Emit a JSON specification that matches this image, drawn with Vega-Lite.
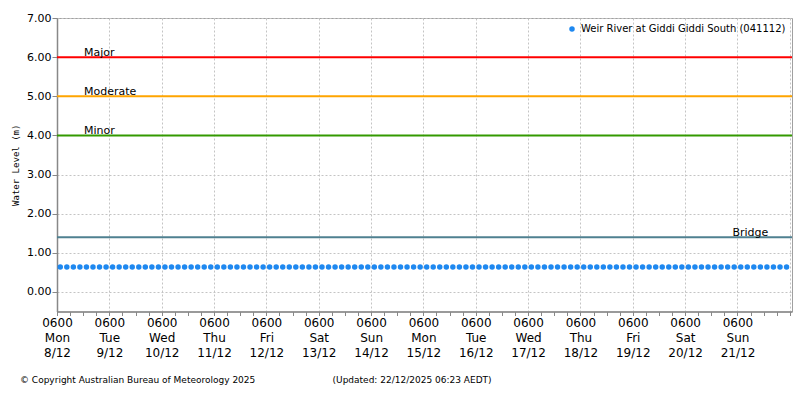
{
  "$schema": "https://vega.github.io/schema/vega-lite/v6.json",
  "width": 735,
  "height": 293.5,
  "autosize": {"type": "none"},
  "padding": {"left": 57, "top": 18, "right": 8, "bottom": 88.5},
  "background": "white",
  "title": {
    "text": "© Copyright Australian Bureau of Meteorology 2025\u00a0\u00a0\u00a0\u00a0\u00a0\u00a0\u00a0\u00a0\u00a0\u00a0\u00a0\u00a0\u00a0\u00a0\u00a0\u00a0\u00a0\u00a0\u00a0\u00a0\u00a0\u00a0\u00a0\u00a0\u00a0\u00a0\u00a0(Updated: 22/12/2025 06:23 AEDT)",
    "orient": "bottom",
    "anchor": "start",
    "frame": "group",
    "dx": -37,
    "offset": 17,
    "font": "DejaVu Sans",
    "fontSize": 9,
    "fontWeight": "normal",
    "color": "black"
  },
  "config": {
    "view": {"stroke": "#a0a0a0", "strokeWidth": 1},
    "axis": {
      "labelFont": "DejaVu Sans",
      "labelColor": "black",
      "domainColor": "#888888",
      "domainWidth": 1.5,
      "tickColor": "#888888",
      "gridColor": "#c4c4c4",
      "gridDash": [2, 2],
      "gridWidth": 1
    }
  },
  "layer": [
    {
      "data": {
        "format": {"parse": {"t": "utc:'%Y-%m-%dT%H:%M'"}},
        "values": [
          {"t": "2025-12-08T07:30", "v": 0.64}, {"t": "2025-12-08T10:30", "v": 0.64}, {"t": "2025-12-08T13:30", "v": 0.64}, {"t": "2025-12-08T16:30", "v": 0.64}, {"t": "2025-12-08T19:30", "v": 0.64}, {"t": "2025-12-08T22:30", "v": 0.64},
          {"t": "2025-12-09T01:30", "v": 0.64}, {"t": "2025-12-09T04:30", "v": 0.64}, {"t": "2025-12-09T07:30", "v": 0.64}, {"t": "2025-12-09T10:30", "v": 0.64}, {"t": "2025-12-09T13:30", "v": 0.64}, {"t": "2025-12-09T16:30", "v": 0.64}, {"t": "2025-12-09T19:30", "v": 0.64}, {"t": "2025-12-09T22:30", "v": 0.64},
          {"t": "2025-12-10T01:30", "v": 0.64}, {"t": "2025-12-10T04:30", "v": 0.64}, {"t": "2025-12-10T07:30", "v": 0.64}, {"t": "2025-12-10T10:30", "v": 0.64}, {"t": "2025-12-10T13:30", "v": 0.64}, {"t": "2025-12-10T16:30", "v": 0.64}, {"t": "2025-12-10T19:30", "v": 0.64}, {"t": "2025-12-10T22:30", "v": 0.64},
          {"t": "2025-12-11T01:30", "v": 0.64}, {"t": "2025-12-11T04:30", "v": 0.64}, {"t": "2025-12-11T07:30", "v": 0.64}, {"t": "2025-12-11T10:30", "v": 0.64}, {"t": "2025-12-11T13:30", "v": 0.64}, {"t": "2025-12-11T16:30", "v": 0.64}, {"t": "2025-12-11T19:30", "v": 0.64}, {"t": "2025-12-11T22:30", "v": 0.64},
          {"t": "2025-12-12T01:30", "v": 0.64}, {"t": "2025-12-12T04:30", "v": 0.64}, {"t": "2025-12-12T07:30", "v": 0.64}, {"t": "2025-12-12T10:30", "v": 0.64}, {"t": "2025-12-12T13:30", "v": 0.64}, {"t": "2025-12-12T16:30", "v": 0.64}, {"t": "2025-12-12T19:30", "v": 0.64}, {"t": "2025-12-12T22:30", "v": 0.64},
          {"t": "2025-12-13T01:30", "v": 0.64}, {"t": "2025-12-13T04:30", "v": 0.64}, {"t": "2025-12-13T07:30", "v": 0.64}, {"t": "2025-12-13T10:30", "v": 0.64}, {"t": "2025-12-13T13:30", "v": 0.64}, {"t": "2025-12-13T16:30", "v": 0.64}, {"t": "2025-12-13T19:30", "v": 0.64}, {"t": "2025-12-13T22:30", "v": 0.64},
          {"t": "2025-12-14T01:30", "v": 0.64}, {"t": "2025-12-14T04:30", "v": 0.64}, {"t": "2025-12-14T07:30", "v": 0.64}, {"t": "2025-12-14T10:30", "v": 0.64}, {"t": "2025-12-14T13:30", "v": 0.64}, {"t": "2025-12-14T16:30", "v": 0.64}, {"t": "2025-12-14T19:30", "v": 0.64}, {"t": "2025-12-14T22:30", "v": 0.64},
          {"t": "2025-12-15T01:30", "v": 0.64}, {"t": "2025-12-15T04:30", "v": 0.64}, {"t": "2025-12-15T07:30", "v": 0.64}, {"t": "2025-12-15T10:30", "v": 0.64}, {"t": "2025-12-15T13:30", "v": 0.64}, {"t": "2025-12-15T16:30", "v": 0.64}, {"t": "2025-12-15T19:30", "v": 0.64}, {"t": "2025-12-15T22:30", "v": 0.64},
          {"t": "2025-12-16T01:30", "v": 0.64}, {"t": "2025-12-16T04:30", "v": 0.64}, {"t": "2025-12-16T07:30", "v": 0.64}, {"t": "2025-12-16T10:30", "v": 0.64}, {"t": "2025-12-16T13:30", "v": 0.64}, {"t": "2025-12-16T16:30", "v": 0.64}, {"t": "2025-12-16T19:30", "v": 0.64}, {"t": "2025-12-16T22:30", "v": 0.64},
          {"t": "2025-12-17T01:30", "v": 0.64}, {"t": "2025-12-17T04:30", "v": 0.64}, {"t": "2025-12-17T07:30", "v": 0.64}, {"t": "2025-12-17T10:30", "v": 0.64}, {"t": "2025-12-17T13:30", "v": 0.64}, {"t": "2025-12-17T16:30", "v": 0.64}, {"t": "2025-12-17T19:30", "v": 0.64}, {"t": "2025-12-17T22:30", "v": 0.64},
          {"t": "2025-12-18T01:30", "v": 0.64}, {"t": "2025-12-18T04:30", "v": 0.64}, {"t": "2025-12-18T07:30", "v": 0.64}, {"t": "2025-12-18T10:30", "v": 0.64}, {"t": "2025-12-18T13:30", "v": 0.64}, {"t": "2025-12-18T16:30", "v": 0.64}, {"t": "2025-12-18T19:30", "v": 0.64}, {"t": "2025-12-18T22:30", "v": 0.64},
          {"t": "2025-12-19T01:30", "v": 0.64}, {"t": "2025-12-19T04:30", "v": 0.64}, {"t": "2025-12-19T07:30", "v": 0.64}, {"t": "2025-12-19T10:30", "v": 0.64}, {"t": "2025-12-19T13:30", "v": 0.64}, {"t": "2025-12-19T16:30", "v": 0.64}, {"t": "2025-12-19T19:30", "v": 0.64}, {"t": "2025-12-19T22:30", "v": 0.64},
          {"t": "2025-12-20T01:30", "v": 0.64}, {"t": "2025-12-20T04:30", "v": 0.64}, {"t": "2025-12-20T07:30", "v": 0.64}, {"t": "2025-12-20T10:30", "v": 0.64}, {"t": "2025-12-20T13:30", "v": 0.64}, {"t": "2025-12-20T16:30", "v": 0.64}, {"t": "2025-12-20T19:30", "v": 0.64}, {"t": "2025-12-20T22:30", "v": 0.64},
          {"t": "2025-12-21T01:30", "v": 0.64}, {"t": "2025-12-21T04:30", "v": 0.64}, {"t": "2025-12-21T07:30", "v": 0.64}, {"t": "2025-12-21T10:30", "v": 0.64}, {"t": "2025-12-21T13:30", "v": 0.64}, {"t": "2025-12-21T16:30", "v": 0.64}, {"t": "2025-12-21T19:30", "v": 0.64}, {"t": "2025-12-21T22:30", "v": 0.64},
          {"t": "2025-12-22T01:30", "v": 0.64}, {"t": "2025-12-22T04:30", "v": 0.64}
        ]
      },
      "mark": {"type": "point", "filled": true, "shape": "circle", "size": 30, "opacity": 1},
      "encoding": {
        "x": {
          "field": "t",
          "type": "temporal",
          "scale": {"type": "utc", "domain": [1765173600000, 1766386800000], "nice": false},
          "axis": {
            "title": null,
            "tickCount": 56,
            "labelExpr": "utchours(datum.value) == 6 && utcdate(datum.value) != 22 ? [utcFormat(datum.value, '%H%M'), utcFormat(datum.value, '%a'), utcFormat(datum.value, '%-d/%-m')] : ''",
            "labelOverlap": false,
            "labelBound": false,
            "labelFlush": false,
            "labelFontSize": 12,
            "labelLineHeight": 15,
            "labelPadding": 2,
            "labelBaseline": "top",
            "tickSize": 4,
            "gridOpacity": {"condition": {"test": "utchours(datum.value) == 6", "value": 1}, "value": 0}
          }
        },
        "y": {
          "field": "v",
          "type": "quantitative",
          "scale": {"domain": [-0.5, 7], "nice": false, "zero": false},
          "axis": {
            "title": "Water Level (m)",
            "titleFont": "DejaVu Sans Mono",
            "titleFontSize": 9,
            "titleFontWeight": "normal",
            "titleColor": "black",
            "titlePadding": 6,
            "values": [0, 1, 2, 3, 4, 5, 6, 7],
            "format": ".2f",
            "labelFontSize": 11,
            "tickSize": 5,
            "labelPadding": 1
          }
        },
        "color": {
          "datum": "Weir River at Giddi Giddi South (041112)",
          "scale": {"range": ["#1e88f0"]},
          "legend": {
            "title": null,
            "orient": "top-right",
            "offset": 6,
            "labelFont": "DejaVu Sans",
            "labelFontSize": 10,
            "labelLimit": 0,
            "labelColor": "black",
            "symbolType": "circle",
            "symbolSize": 30
          }
        }
      }
    },
    {
      "data": {
        "values": [
          {"level": "Major", "value": 6.0},
          {"level": "Moderate", "value": 5.0},
          {"level": "Minor", "value": 4.0},
          {"level": "Bridge", "value": 1.4}
        ]
      },
      "mark": {"type": "rule", "strokeWidth": 2},
      "encoding": {
        "y": {"field": "value", "type": "quantitative"},
        "stroke": {
          "field": "level",
          "type": "nominal",
          "scale": {
            "domain": ["Major", "Moderate", "Minor", "Bridge"],
            "range": ["#ff0000", "#ffa500", "#339900", "#4f8090"]
          },
          "legend": null
        }
      }
    },
    {
      "data": {
        "format": {"parse": {"at": "utc:'%Y-%m-%dT%H:%M'"}},
        "values": [
          {"level": "Major", "value": 6.0, "at": "2025-12-08T18:24"},
          {"level": "Moderate", "value": 5.0, "at": "2025-12-08T18:24"},
          {"level": "Minor", "value": 4.0, "at": "2025-12-08T18:24"},
          {"level": "Bridge", "value": 1.4, "at": "2025-12-21T03:40"}
        ]
      },
      "mark": {"type": "text", "align": "left", "baseline": "alphabetic", "dy": -1, "font": "DejaVu Sans", "fontSize": 11, "color": "black"},
      "encoding": {
        "x": {"field": "at", "type": "temporal"},
        "y": {"field": "value", "type": "quantitative"},
        "text": {"field": "level"}
      }
    }
  ]
}
